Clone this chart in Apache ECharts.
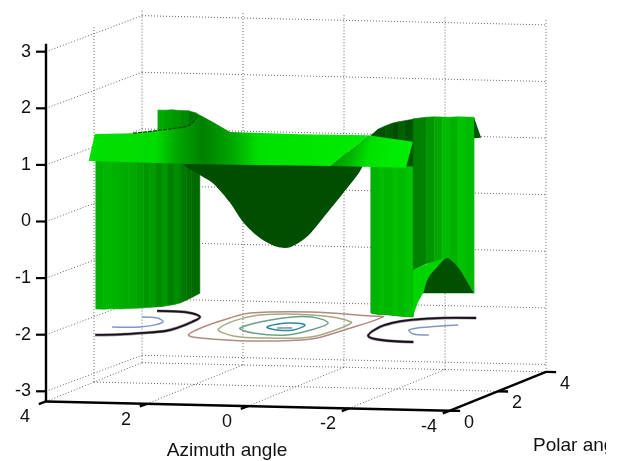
<!DOCTYPE html>
<html>
<head>
<meta charset="utf-8">
<style>html,body{margin:0;padding:0;background:#fff}#c{width:622px;height:461px;filter:blur(0.5px)}</style>
<script src="https://cdn.jsdelivr.net/npm/echarts@6/dist/echarts.min.js"></script>
</head>
<body>
<div id="c"></div>
<script>
// ---- tick labels ----
const zTicks = [3, 2, 1, 0, -1, -2, -3];
const azTicks = [4, 2, 0, -2, -4];
const polarTicks = [0, 2, 4];
const azTitle = 'Azimuth angle';
const polarTitle = 'Polar ang';

// ---- surface values (surface is read on the mid plane polar = surfacePolar) ----
const surfacePolar = 1.57;
const ribbonAz = [3.90, 3.78, 3.02, 2.15, 1.90, 1.76, 1.44, 1.10, -0.28, -1.63, -0.90, 1.70];
const ribbonZ = [0.82, 1.30, 1.33, 1.44, 1.50, 1.71, 1.56, 1.39, 1.38, 1.39, 0.83, 0.81];
const ribbonShade = [[0, 224], [0.24, 220], [0.315, 168], [0.41, 128], [0.516, 168], [0.61, 224], [1, 236]];
const foldAz = [-0.90, -1.63, -2.52, -2.38];
const foldZ = [0.83, 1.39, 1.29, 0.83];
const foldShade = [[0, 136], [0.3, 170], [0.65, 224], [1, 236]];
const ridgeAz = [3.02, 2.15, 1.90, 1.74];
const ridgeZ = [1.33, 1.44, 1.50, 1.68];
const sagAz = [2.03, 2.03, 1.70, 1.44, 1.10, 0.85, 0.51, 0.17, -0.09, -0.42, -0.74, -1.14, -1.51, -1.51];
const sagZ = [1.05, 0.81, 0.62, 0.48, 0.14, -0.19, -0.47, -0.62, -0.62, -0.43, -0.09, 0.36, 0.81, 1.05];

const leftAz = [3.76, 3.60, 3.44, 3.28, 3.12, 2.96, 2.81, 2.69, 2.57, 2.45, 2.33, 2.21, 2.09, 1.97, 1.86, 1.70];
const leftBottom = [-1.79, -1.79, -1.78, -1.78, -1.77, -1.76, -1.75, -1.74, -1.73, -1.72, -1.70, -1.68, -1.65, -1.60, -1.55, -1.47];
const leftTop = 0.85;
const leftShade = [176, 182, 178, 172, 170, 160, 150, 156, 140, 150, 130, 140, 122, 112, 106];

const bumpAz = [2.53, 2.39, 2.25, 2.09, 1.93, 1.76];
const bumpTop = [1.75, 1.75, 1.76, 1.75, 1.75, 1.71];
const bumpBottom = 1.30;
const bumpShade = [170, 160, 150, 140, 120];

const rightAz = [-1.69, -1.83, -1.97, -2.11, -2.24, -2.36, -2.52, -2.54, -2.78, -2.94, -3.10, -3.25, -3.41, -3.57, -3.73];
const rightTop = [1.39, 1.50, 1.56, 1.61, 1.64, 1.66, 1.69, 1.70, 1.73, 1.74, 1.74, 1.74, 1.75, 1.75, 1.75];
const rightBottom = [-1.75, -1.77, -1.77, -1.78, -1.79, -1.80, -1.80, -0.97, -0.86, -0.83, -0.78, -0.77, -0.91, -1.12, -1.36];
const rightShade = [80, 78, 88, 76, 96, 84, 104, 128, 150, 168, 186, 178, 194, 186];

const frontAz = [-1.69, -1.83, -1.97, -2.11, -2.24, -2.36, -2.52];
const frontBottom = [-1.75, -1.77, -1.77, -1.78, -1.79, -1.80, -1.80];
const frontTop = 0.85;
const frontShade = [180, 188, 182, 192, 186, 194];

const cornerAz = [-3.73, -3.87, -3.73];
const cornerZ = [1.75, 1.39, 1.38];
const archAz = [-2.52, -2.62, -2.72, -2.82, -3.00, -3.19, -2.86, -2.52];
const archZ = [-1.79, -1.54, -1.38, -1.11, -0.91, -0.75, -0.84, -0.97];
const hollowAz = [-2.72, -2.72, -2.82, -3.00, -3.19, -3.33, -3.45, -3.61, -3.73, -3.73];
const hollowZ = [-1.38, -1.38, -1.11, -0.91, -0.75, -0.83, -0.95, -1.18, -1.36, -1.36];

// ---- contour lines on the plane z = contourZ ----
const contourZ = -2.05;
const c1Az = [1.47, 1.59, 1.54, 1.41, 0.34, -1.00, -1.27, -1.19, -1.02, 0.02, 1.10];
const c1Polar = [0.61, 1.48, 2.49, 3.06, 3.31, 3.03, 2.96, 1.50, 0.48, 0.13, 0.32];
const c2Az = [1.21, 1.21, 0.17, -0.92, -1.03, -0.92, -0.15, 0.58];
const c2Polar = [1.31, 2.75, 3.00, 2.36, 1.71, 0.69, 0.48, 0.61];
const c3Az = [0.85, 0.55, 0.07, -0.54, -0.57, -0.37, 0.36];
const c3Polar = [1.46, 2.61, 2.79, 2.20, 1.42, 0.84, 0.97];
const c4Az = [0.40, 0.22, -0.21, -0.24, 0.06];
const c4Polar = [1.63, 2.10, 1.93, 1.38, 1.34];
const c5Az = [0.16, -0.12];
const c5Polar = [1.55, 1.59];
const leftArcAz = [3.21, 2.77, 2.41, 2.10, 2.03, 2.05, 2.15, 2.53, 2.89, 3.25];
const leftArcPolar = [0.39, 0.50, 0.71, 0.97, 1.31, 1.98, 2.52, 2.92, 3.04, 3.05];
const leftInnerAz = [3.29, 2.77, 2.59, 2.61, 2.90, 3.23];
const leftInnerPolar = [1.26, 1.33, 1.58, 1.96, 2.31, 2.38];
const rightArcAz = [-3.06, -2.46, -1.94, -1.74, -1.72, -1.94, -2.38, -3.08];
const rightArcPolar = [3.07, 3.00, 2.71, 2.35, 1.79, 0.93, 0.54, 0.41];
const rightInnerAz = [-3.07, -2.61, -2.40, -2.68, -3.02];
const rightInnerPolar = [2.30, 2.02, 1.66, 1.25, 1.18];

// ---- view of the box ----
const azMax = 4, azMin = -4, polarMin = 0, polarMax = 4, zTop = 3.12;
const floorZ = p => -3.18 + 0.0125 * p;
function project(az, polar, z) {
  const u = azMax - az;
  return [46 + 50.5 * u + 24 * polar, 221.5 + 1.15 * u - 9 * polar - 56.6 * z];
}

const items = [];
const green = g => 'rgb(0,' + g + ',0)';
const GRID = '#666';
function grid(a, b) {
  items.push({kind: 'line', pts: [a, b], stroke: GRID, width: 1, dash: [1, 2]});
}
// walls and floor
zTicks.forEach(z => {
  grid(project(azMax, polarMin, z), project(azMax, polarMax, z));
  grid(project(azMax, polarMax, z), project(azMin, polarMax, z));
});
grid(project(azMax, polarMin, floorZ(0)), project(azMax, polarMax, floorZ(4)));
grid(project(azMax, polarMax, floorZ(4)), project(azMin, polarMax, floorZ(4)));
grid(project(azMax, 2, floorZ(2)), project(azMin, 2, floorZ(2)));
[2, 4].forEach(p => grid(project(azMax, p, floorZ(p)), project(azMax, p, zTop)));
[2, 0, -2, -4].forEach(a => grid(project(a, polarMax, floorZ(4)), project(a, polarMax, zTop)));
[2, 0, -2].forEach(a => grid(project(a, polarMin, floorZ(0)), project(a, polarMax, floorZ(4))));

// contours
function contour(az, polar, stroke, width, closed) {
  items.push({kind: closed ? 'closed' : 'curve', pts: az.map((a, i) => project(a, polar[i], contourZ)), stroke, width});
}
contour(c1Az, c1Polar, '#b08c80', 1.5, true);
contour(c2Az, c2Polar, '#a8a884', 1.5, true);
contour(c3Az, c3Polar, '#6ca088', 1.5, true);
contour(c4Az, c4Polar, '#3188a0', 1.5, true);
contour(c5Az, c5Polar, '#2c5a64', 1, false);
contour(leftArcAz, leftArcPolar, '#a08c90', 3, false);
contour(leftArcAz, leftArcPolar, '#14121e', 1.8, false);
contour(leftInnerAz, leftInnerPolar, '#8296c4', 1.4, false);
contour(rightArcAz, rightArcPolar, '#a08c90', 3, false);
contour(rightArcAz, rightArcPolar, '#14121e', 1.8, false);
contour(rightInnerAz, rightInnerPolar, '#8296c4', 1.4, false);

// surface
const at = (a, z) => project(a, surfacePolar, z);
function strips(az, top, bottom, shade) {
  shade.forEach((g, i) => {
    const t0 = Array.isArray(top) ? top[i] : top;
    const t1 = Array.isArray(top) ? top[i + 1] : top;
    const b0 = Array.isArray(bottom) ? bottom[i] : bottom;
    const b1 = Array.isArray(bottom) ? bottom[i + 1] : bottom;
    items.push({kind: 'fill', fill: green(g), edge: true,
      pts: [at(az[i], t0), at(az[i + 1], t1), at(az[i + 1], b1), at(az[i], b0)]});
  });
}
function patch(az, z, fill, smooth) {
  items.push({kind: 'fill', fill, smooth: smooth || 0, pts: az.map((a, i) => at(a, z[i]))});
}
const gradient = (stops, x1, y1) => new echarts.graphic.LinearGradient(0, 0, x1, y1,
  stops.map(s => ({offset: s[0], color: green(s[1])})));

strips(rightAz, rightTop, rightBottom, rightShade);
patch(cornerAz, cornerZ, green(88));
strips(frontAz, frontTop, frontBottom, frontShade);
patch(archAz, archZ, green(212));
patch(hollowAz, hollowZ, green(80), 0.3);
strips(bumpAz, bumpTop, bumpBottom, bumpShade);
strips(leftAz, leftTop, leftBottom, leftShade);
patch(sagAz, sagZ, green(78), 0.3);
patch(ribbonAz, ribbonZ, gradient(ribbonShade, 1, 0));
patch(foldAz, foldZ, gradient(foldShade, 0.75, 0.45));
items.push({kind: 'curve', pts: ridgeAz.map((a, i) => at(a, ridgeZ[i])), stroke: green(70), width: 1.2, dash: [4, 1]});

// axes
const AXIS = '#000';
function axis(a, b, width) {
  items.push({kind: 'line', pts: [a, b], stroke: AXIS, width: width});
}
axis(project(azMax, polarMin, zTop + 0.02), project(azMax, polarMin, floorZ(0)), 2.4);
axis(project(azMax, polarMin, floorZ(0)), project(azMin, polarMin, floorZ(0)), 2.4);
axis(project(azMin, polarMin, floorZ(0)), project(azMin, polarMax, floorZ(4)), 2.4);
function label(pos, text, dx, dy, align, size) {
  items.push({kind: 'text', pts: [pos], text, dx, dy, align, size});
}
zTicks.forEach(z => {
  const p = project(azMax, polarMin, z);
  axis([p[0] - 10, p[1]], p, 2.2);
  label(p, String(z), -15, 0, 'right', 18);
});
azTicks.forEach(a => {
  const f = project(a, polarMin, floorZ(0));
  axis(f, project(a, -0.3, floorZ(0)), 2.4);
  label(f, String(a), -21, 16, 'center', 18);
});
polarTicks.forEach(p => {
  const f = project(azMin, p, floorZ(p));
  axis(f, project(azMin - 0.2, p, floorZ(p)), 2.4);
  label(f, String(p), 19, 12, 'center', 18);
});
label(project(0, polarMin, floorZ(0)), azTitle, -21, 45, 'center', 19);
label(project(azMin, polarMin, floorZ(0)), polarTitle, 83, 35, 'left', 19);

function renderItem(params, api) {
  const s = items[params.dataIndex];
  const pts = s.pts.map(p => api.coord(p));
  if (s.kind === 'text') {
    return {type: 'text', style: {x: pts[0][0] + s.dx, y: pts[0][1] + s.dy, text: s.text,
      fill: '#111', font: s.size + 'px "Liberation Sans"', align: s.align, verticalAlign: 'middle'}};
  }
  if (s.kind === 'fill') {
    return {type: 'polygon', shape: {points: pts, smooth: s.smooth || 0},
      style: {fill: s.fill, stroke: s.edge ? s.fill : null, lineWidth: s.edge ? 0.6 : 0}};
  }
  if (s.kind === 'closed') {
    return {type: 'polygon', shape: {points: pts, smooth: 0.35},
      style: {fill: null, stroke: s.stroke, lineWidth: s.width}};
  }
  return {type: 'polyline', shape: {points: pts, smooth: s.kind === 'curve' ? 0.35 : 0},
    style: {fill: null, stroke: s.stroke, lineWidth: s.width, lineDash: s.dash || null}};
}

const chart = echarts.init(document.getElementById('c'), null, {renderer: 'canvas'});
chart.setOption({
  animation: false,
  backgroundColor: '#fff',
  grid: {left: 0, right: 0, top: 0, bottom: 0},
  xAxis: {type: 'value', min: 0, max: 622, show: false},
  yAxis: {type: 'value', min: 0, max: 461, inverse: true, show: false},
  series: [{
    type: 'custom',
    coordinateSystem: 'cartesian2d',
    clip: false,
    silent: true,
    renderItem,
    encode: {x: 0, y: 1},
    data: items.map((s, i) => [s.pts[0][0], s.pts[0][1], i])
  }],
  graphic: [{type: 'rect', z: 100, shape: {x: 606, y: 428, width: 16, height: 33}, style: {fill: '#fff'}}]
});
</script>
</body>
</html>
